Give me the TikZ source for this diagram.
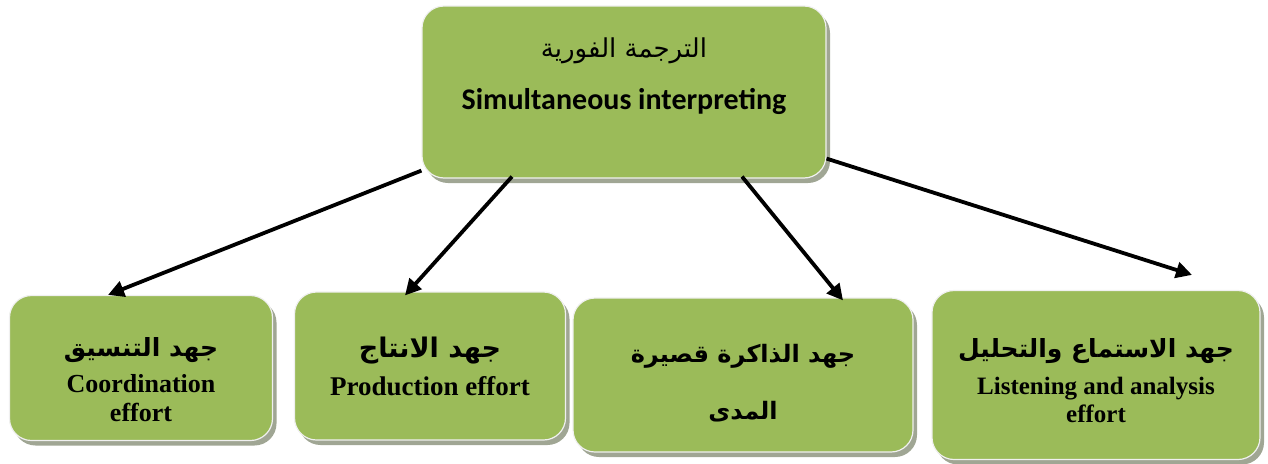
\documentclass[tikz,border=0pt]{standalone}
\usepackage{fontspec}
\usepackage{xcolor}
\usepackage{tikz}
\usetikzlibrary{shapes,arrows.meta,positioning,shadows}
\setmainfont{Liberation Serif}
\newfontfamily\arabicfont[Script=Arabic]{DejaVu Sans}
\newfontfamily\calfont{Carlito}
\TeXXeTstate=1
\definecolor{boxgreen}{RGB}{155,187,89}
\definecolor{shadowgray}{RGB}{160,166,148}

\begin{document}
\begin{tikzpicture}[x=1pt,y=-1pt,
  box/.style={rectangle, rounded corners=22pt, draw=white!88!gray, line width=1.2pt, fill=boxgreen, align=center,
    drop shadow={shadow xshift=4pt, shadow yshift=-5pt, fill=shadowgray, opacity=1}},
  link/.style={line width=3.8pt, -{Triangle[length=16pt,width=16pt]}}]
\useasboundingbox (0,0) rectangle (1268,463);
\node (top) [box, minimum width=404pt, minimum height=172pt, font=\calfont\bfseries\fontsize{30}{30}\selectfont] at (624,92)
  {{\arabicfont\mdseries\fontsize{26}{30}\selectfont\beginR الترجمة الفورية\endR}\\[22pt]Simultaneous interpreting\\[6pt]\mbox{}};
\node (coord) [box, minimum width=263pt, minimum height=145pt, font=\bfseries\fontsize{26}{29}\selectfont] at (141,368)
  {\rule{0pt}{42pt}{\arabicfont\fontsize{25}{29}\selectfont\beginR جهد التنسيق\endR}\\[7pt]Coordination\\effort};
\node (prod) [box, minimum width=271pt, minimum height=148pt, font=\bfseries\fontsize{27}{29}\selectfont] at (430,366)
  {{\arabicfont\fontsize{27}{29}\selectfont\beginR جهد الانتاج\endR}\\[9pt]Production effort};
\node (mem) [box, minimum width=340pt, minimum height=154pt, font=\arabicfont\bfseries\fontsize{24}{30}\selectfont] at (743,375)
  {\rule{0pt}{34pt}\beginR جهد الذاكرة قصيرة\endR\\[27pt]\beginR المدى\endR};
\node (listen) [box, minimum width=328pt, minimum height=169pt, font=\bfseries\fontsize{25}{28}\selectfont] at (1096,375)
  {\rule{0pt}{31pt}{\arabicfont\fontsize{25}{28}\selectfont\beginR جهد الاستماع والتحليل\endR}\\[9pt]Listening and analysis\\effort};
% connectors
\draw[link] ([yshift=8pt]top.south west) -- ([xshift=-33pt]coord.north);
\draw[link] ([xshift=-112pt,yshift=2pt]top.south) -- ([xshift=-25pt,yshift=-4pt]prod.north);
\draw[link] ([xshift=118pt,yshift=2pt]top.south) -- ([xshift=100pt,yshift=-3pt]mem.north);
\draw[link] ([yshift=20pt]top.south east) -- ([xshift=96pt,yshift=15pt]listen.north);
\end{tikzpicture}
\end{document}
